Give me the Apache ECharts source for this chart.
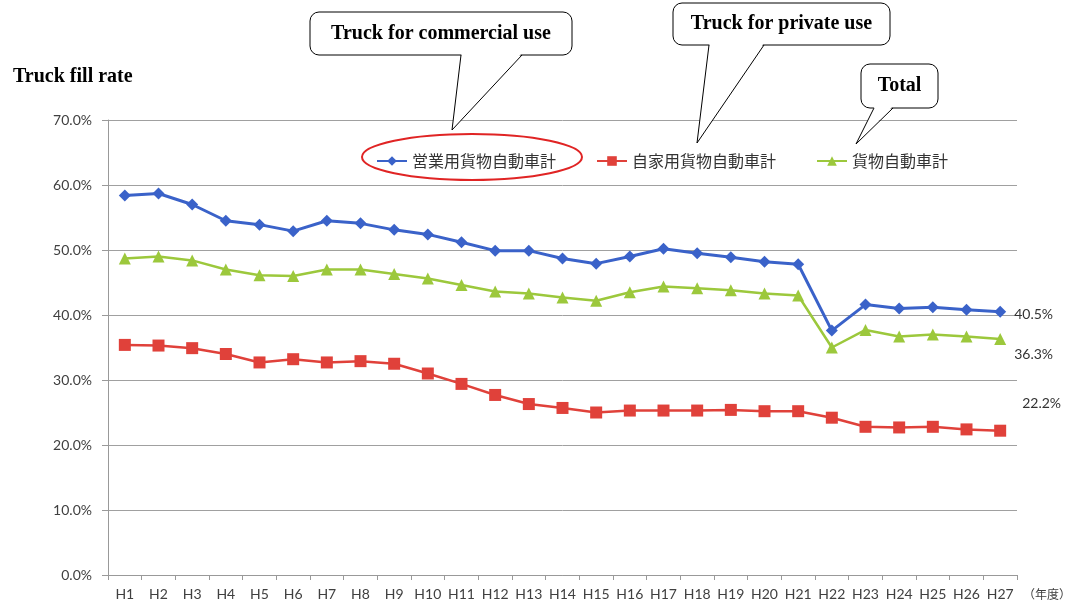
<!DOCTYPE html>
<html>
<head>
<meta charset="utf-8">
<script src="https://cdn.jsdelivr.net/npm/echarts@6/dist/echarts.min.js"></script>
<style>html,body{margin:0;padding:0;background:#fff;}#c{width:1074px;height:603px;}</style>
</head>
<body>
<div id="c"></div>
<script>
var categories = ['H1','H2','H3','H4','H5','H6','H7','H8','H9','H10','H11','H12','H13','H14','H15','H16','H17','H18','H19','H20','H21','H22','H23','H24','H25','H26','H27'];
var seriesNames = ['営業用貨物自動車計','自家用貨物自動車計','貨物自動車計'];
var commercial = [58.4,58.7,57.0,54.5,53.9,52.9,54.5,54.1,53.1,52.4,51.2,49.9,49.9,48.7,47.9,49.0,50.2,49.5,48.9,48.2,47.8,37.6,41.6,41.0,41.2,40.8,40.5];
var privateUse = [35.4,35.3,34.9,34.0,32.7,33.2,32.7,32.9,32.5,31.0,29.4,27.7,26.3,25.7,25.0,25.3,25.3,25.3,25.4,25.2,25.2,24.2,22.8,22.7,22.8,22.4,22.2];
var total = [48.7,49.0,48.4,47.0,46.1,46.0,47.0,47.0,46.3,45.6,44.6,43.6,43.3,42.7,42.2,43.5,44.4,44.1,43.8,43.3,43.0,35.0,37.7,36.7,37.0,36.7,36.3];
var yTicks = {min: 0, max: 70, interval: 10};

var chart = echarts.init(document.getElementById('c'));

function withEndLabel(arr, labelOpt) {
  return arr.map(function (v, i) {
    if (i === arr.length - 1) {
      return {value: v, label: Object.assign({show: true, formatter: function (p) { return p.value.toFixed(1) + '%'; }, color: '#333', fontSize: 14, fontFamily: 'Lato'}, labelOpt)};
    }
    return v;
  });
}

var serifBold = {fontFamily: 'Liberation Serif', fontWeight: 'bold', fontSize: 20, fill: '#000'};

function callout(x1, y1, x2, y2, bx1, bx2, tx, ty, text) {
  return [
    {type: 'rect', shape: {x: x1, y: y1, width: x2 - x1, height: y2 - y1, r: 9}, style: {fill: '#fff', stroke: '#000', lineWidth: 1}, z: 10},
    {type: 'polygon', shape: {points: [[bx1 + 0.5, y2 - 1.5], [bx2 - 0.5, y2 - 1.5], [tx, ty]]}, style: {fill: '#fff', stroke: null}, z: 11},
    {type: 'polyline', shape: {points: [[bx1, y2], [tx, ty], [bx2, y2]]}, style: {fill: null, stroke: '#000', lineWidth: 1}, z: 12},
    {type: 'text', x: (x1 + x2) / 2, y: (y1 + y2) / 2, style: Object.assign({text: text, align: 'center', verticalAlign: 'middle'}, serifBold), z: 13}
  ];
}

var graphics = [
  {type: 'text', x: 13, y: 77, style: Object.assign({text: 'Truck fill rate', verticalAlign: 'middle'}, serifBold)},
  {type: 'ellipse', shape: {cx: 472, cy: 157, rx: 110, ry: 23}, style: {fill: 'none', stroke: '#e02424', lineWidth: 2}, z: 10}
].concat(
  callout(310, 12, 572, 55, 461, 522, 452, 130, 'Truck for commercial use'),
  callout(673, 3, 890, 45, 709, 764, 697, 143, 'Truck for private use'),
  callout(861, 64, 938, 108, 874, 893, 856, 144, 'Total')
);

chart.setOption({
  animation: false,
  backgroundColor: '#fff',
  grid: {left: 108, right: 50, top: 120, bottom: 28},
  legend: {
    data: seriesNames,
    left: 371, top: 148,
    itemWidth: 30, itemHeight: 12, itemGap: 40,
    textStyle: {fontSize: 16, fontFamily: 'Noto Sans CJK JP', color: '#333'}
  },
  xAxis: {
    type: 'category',
    data: categories,
    boundaryGap: true,
    axisLine: {lineStyle: {color: '#999', width: 1}},
    axisTick: {show: true, length: 5, interval: 0, lineStyle: {color: '#999'}},
    axisLabel: {fontSize: 14, fontFamily: 'Lato', color: '#404040', margin: 12, interval: 0},
    name: '（年度）',
    nameLocation: 'end',
    nameGap: 6,
    nameTextStyle: {fontSize: 12, fontFamily: 'Noto Sans CJK JP', color: '#404040', verticalAlign: 'top', padding: [13, 0, 0, 0]}
  },
  yAxis: {
    type: 'value',
    min: yTicks.min, max: yTicks.max, interval: yTicks.interval,
    axisLine: {show: true, lineStyle: {color: '#999', width: 1}},
    axisTick: {show: true, length: 6, lineStyle: {color: '#999'}},
    axisLabel: {fontSize: 14, fontFamily: 'Lato', color: '#404040', margin: 16, formatter: function (v) { return v.toFixed(1) + '%'; }},
    splitLine: {lineStyle: {color: '#a0a0a0', width: 1}}
  },
  series: [
    {name: seriesNames[0], type: 'line', data: withEndLabel(commercial, {position: 'right', distance: 8, offset: [0, 3]}),
     symbol: 'diamond', symbolSize: 12, color: '#3a62c9', lineStyle: {width: 3, color: '#3a62c9'}, itemStyle: {color: '#3a62c9'}, z: 3},
    {name: seriesNames[1], type: 'line', data: withEndLabel(privateUse, {position: 'right', distance: 16, offset: [0, -27]}),
     symbol: 'rect', symbolSize: 12, color: '#e0413a', lineStyle: {width: 2.5, color: '#e0413a'}, itemStyle: {color: '#e0413a'}, z: 2},
    {name: seriesNames[2], type: 'line', data: withEndLabel(total, {position: 'right', distance: 8, offset: [0, 15]}),
     symbol: 'triangle', symbolSize: 12, color: '#9cc83c', lineStyle: {width: 2.5, color: '#9cc83c'}, itemStyle: {color: '#9cc83c'}, z: 2}
  ],
  graphic: graphics
});
</script>
</body>
</html>
